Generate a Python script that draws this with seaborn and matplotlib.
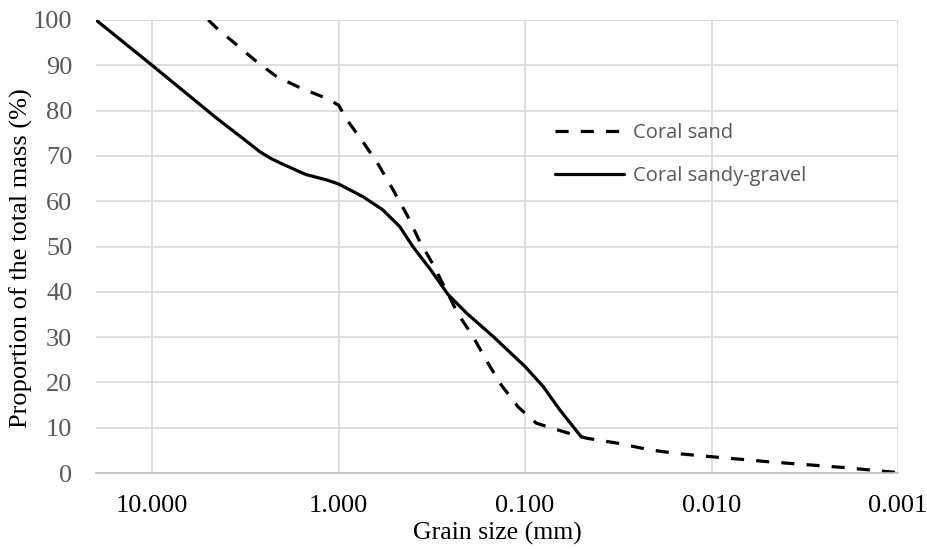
import pandas as pd
import seaborn as sns
import matplotlib.pyplot as plt
import numpy as np

# grain size (mm) and % passing
sand_size = [5.0, 4.5, 2.75, 2.15, 1.58, 1.16, 1.0, 0.9, 0.74, 0.61, 0.51, 0.43, 0.37,
             0.31, 0.23, 0.19, 0.16, 0.134, 0.109, 0.1, 0.087, 0.062, 0.047, 0.031,
             0.022, 0.0154, 0.01, 0.005, 0.002, 0.001]
sand_pass = [100, 98.2, 90.8, 87.5, 84.9, 82.7, 81.2, 77.9, 73.1, 68.0, 62.5, 57.0, 51.4,
             45.9, 35.3, 30.1, 24.6, 19.4, 14.6, 13.2, 11.0, 9.1, 7.7, 6.5,
             5.2, 4.3, 3.6, 2.5, 1.25, 0.1]

gravel_size = [20, 10, 4.5, 3.2, 2.64, 2.3, 2.0, 1.5, 1.16, 1.0, 0.74, 0.58, 0.47, 0.40,
               0.32, 0.26, 0.206, 0.148, 0.116, 0.1, 0.08, 0.065, 0.05]
gravel_pass = [100, 90, 78.3, 73.6, 70.9, 69.4, 68.2, 65.9, 64.7, 63.8, 61.0, 58.1, 54.4, 50.0,
               44.8, 39.5, 35.3, 30.1, 26.0, 23.5, 19.1, 13.9, 8.0]

x_ticks = [10, 1, 0.1, 0.01, 0.001]
x_ticklabels = ["10.000", "1.000", "0.100", "0.010", "0.001"]

df = pd.concat([
    pd.DataFrame({"size": sand_size, "pass": sand_pass, "Material": "Coral sand"}),
    pd.DataFrame({"size": gravel_size, "pass": gravel_pass, "Material": "Coral sandy-gravel"}),
])

sns.set_style("white")
plt.rcParams["font.family"] = ["Liberation Serif", "DejaVu Serif"]

fig = plt.figure(figsize=(9.28, 5.49), dpi=100)
ax = fig.add_axes([0.1034, 0.1384, 0.8643, 0.8252])

sns.lineplot(data=df, x="size", y="pass", style="Material", estimator=None, sort=False,
             color="black", linewidth=2.3,
             dashes={"Coral sand": (4.1, 3.8), "Coral sandy-gravel": ""}, ax=ax)

ax.set_xscale("log")
ax.set_xlim(20, 0.001)
ax.set_ylim(0, 100)
ax.set_xticks(x_ticks)
ax.set_xticklabels(x_ticklabels)
ax.minorticks_off()
ax.set_yticks(range(0, 101, 10))
ax.tick_params(axis="x", labelsize=19, colors="black", length=0, pad=16)
ax.tick_params(axis="y", labelsize=19, labelcolor="#595959", length=0, pad=17)

ax.grid(True, color="#d9d9d9", linewidth=1.2)
ax.set_axisbelow(True)
for s in ["top", "right", "left"]:
    ax.spines[s].set_visible(False)
ax.spines["bottom"].set_color("#bfbfbf")
ax.spines["bottom"].set_linewidth(1.2)

ax.set_xlabel("Grain size (mm)", fontsize=18.5, color="black", labelpad=3)
ax.set_ylabel("Proportion of the total mass (%)", fontsize=19, color="black")
ax.yaxis.set_label_coords(-0.079, 0.475)

leg = ax.legend(loc="upper left", bbox_to_anchor=(0.55, 0.813), frameon=False,
                handlelength=3.4, handletextpad=0.45, labelspacing=1.15,
                prop={"family": "Open Sans", "size": 14.5})
for t in leg.get_texts():
    t.set_color("#595959")

fig.savefig("out.png", dpi=100)
